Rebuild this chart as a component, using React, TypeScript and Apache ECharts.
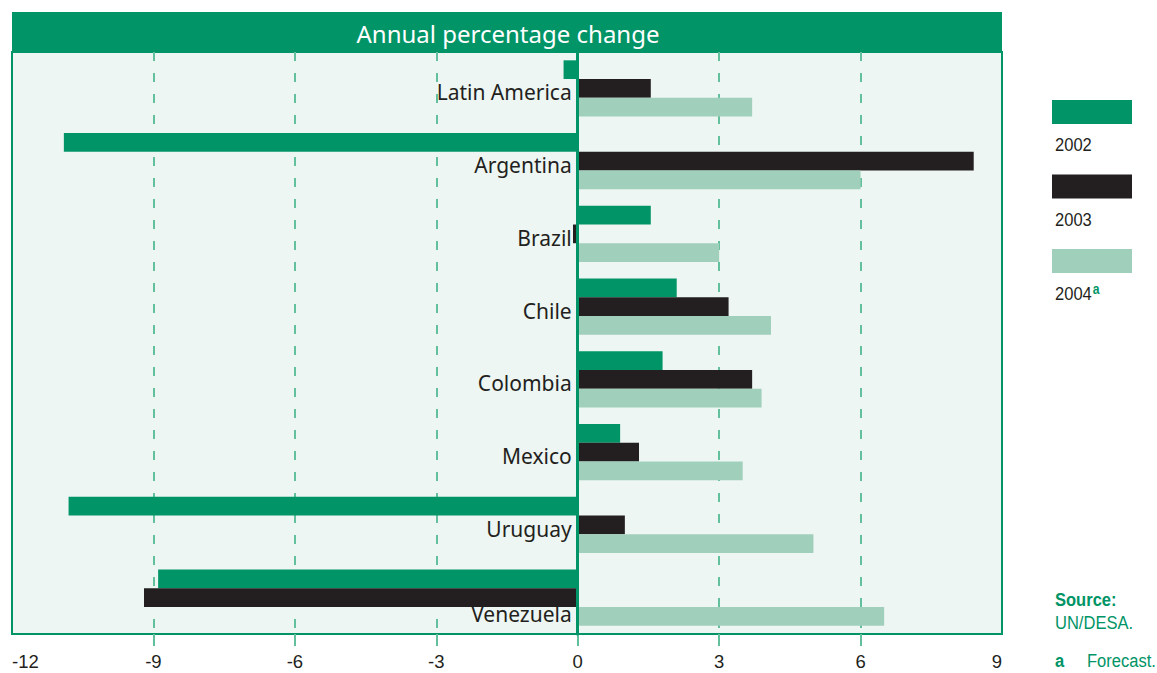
import React, { useEffect, useRef } from "react";
import * as echarts from "echarts";

const categories = ["Latin America", "Argentina", "Brazil", "Chile", "Colombia", "Mexico", "Uruguay", "Venezuela"];
const seriesNames = ["2002", "2003", "2004"];
const values2002 = [-0.3, -10.9, 1.55, 2.1, 1.8, 0.9, -10.8, -8.9];
const values2003 = [1.55, 8.4, -0.1, 3.2, 3.7, 1.3, 1.0, -9.2];
const values2004 = [3.7, 6.0, 3.0, 4.1, 3.9, 3.5, 5.0, 6.5];
const xTicks = [-9, -6, -3, 0, 3, 6];

const GREEN = "#009466";
const BLACK = "#231F20";
const LIGHT = "#A0CFBC";
const GRIDC = "#62C09C";
const colors = [GREEN, BLACK, LIGHT];
const NARROW = "'Liberation Sans', Arial, sans-serif";
const MAIN = "'Noto Sans', 'Open Sans', sans-serif";
const SX = 0.87;

const GRID_LEFT = 12;
const GRID_RIGHT = 155;
const X_MIN = -12;
const X_MAX = 9;

export default function App() {
  const ref = useRef<HTMLDivElement>(null);
  useEffect(() => {
    document.body.style.margin = "0";
    const chart = echarts.init(ref.current!, null, { renderer: "svg" });
    const data = [values2002, values2003, values2004];
    const plotW = 1157 - GRID_LEFT - GRID_RIGHT;
    const zeroOffset = ((0 - X_MIN) / (X_MAX - X_MIN)) * plotW;
    const legendGraphics: any[] = [];
    seriesNames.forEach((n, i) => {
      const top = 100 + i * 74.5;
      legendGraphics.push({
        type: "rect",
        shape: { x: 1052, y: top, width: 80, height: 24 },
        style: { fill: colors[i] },
      });
      legendGraphics.push({
        type: "text",
        x: 1055,
        y: top + 45,
        scaleX: SX,
        style: {
          text: i === 2 ? n + "{a|a}" : n,
          fill: BLACK,
          font: `19px ${NARROW}`,
          verticalAlign: "middle",
          rich: { a: { fill: GREEN, fontWeight: "bold", fontSize: 14, fontFamily: NARROW, padding: [0, 0, 10, 1] } },
        } as any,
      });
    });
    chart.setOption({
      animation: false,
      grid: {
        left: GRID_LEFT,
        right: GRID_RIGHT,
        top: 52,
        bottom: 39,
        containLabel: false,
        outerBoundsMode: "none",
        show: true,
        backgroundColor: "#EDF6F2",
        borderColor: GREEN,
        borderWidth: 2,
      },
      xAxis: {
        type: "value",
        min: X_MIN,
        max: X_MAX,
        interval: 3,
        axisLine: { show: false },
        axisTick: { show: true, customValues: xTicks, length: 12, lineStyle: { color: GRIDC, width: 2 } },
        splitLine: { show: true, lineStyle: { color: GRIDC, type: [9, 12], width: 2 } },
        axisLabel: {
          show: true,
          margin: 18,
          fontSize: 18.5,
          color: BLACK,
          fontFamily: NARROW,
          showMinLabel: true,
          showMaxLabel: true,
          alignMinLabel: "left",
          alignMaxLabel: "right",
        },
      },
      yAxis: {
        type: "category",
        inverse: true,
        data: categories,
        z: 5,
        offset: -zeroOffset,
        axisLine: { show: true, onZero: false, lineStyle: { color: GREEN, width: 3 } },
        axisTick: { show: false },
        axisLabel: {
          margin: 6,
          fontSize: 21,
          color: BLACK,
          fontFamily: MAIN,
          formatter: (v: string) => (v === "Venezuela" ? `{v|${v}}` : `{n|${v}}`),
          rich: {
            n: { fontSize: 21, fontFamily: MAIN, color: BLACK, padding: [8, 0, 0, 0] },
            v: { fontSize: 21, fontFamily: MAIN, color: BLACK, padding: [32, 0, 0, 0] },
          },
        },
      },
      series: seriesNames.map((n, i) => ({
        name: n,
        type: "bar",
        data: data[i],
        barWidth: 18.7,
        barGap: "0%",
        itemStyle: { color: colors[i] },
      })),
      graphic: [
        { type: "rect", shape: { x: 12, y: 12, width: 990, height: 40 }, style: { fill: GREEN } },
        {
          type: "text",
          x: 508,
          y: 33,
          style: { text: "Annual percentage change", fill: "#fff", font: `24px ${MAIN}`, align: "center", verticalAlign: "middle" },
        },
        ...legendGraphics,
        { type: "text", x: 1055, y: 600, scaleX: SX, style: { text: "Source:", fill: GREEN, font: `bold 19px ${NARROW}`, verticalAlign: "middle" } },
        { type: "text", x: 1055, y: 623, scaleX: SX, style: { text: "UN/DESA.", fill: GREEN, font: `19px ${NARROW}`, verticalAlign: "middle" } },
        { type: "text", x: 1055, y: 661, scaleX: SX, style: { text: "a", fill: GREEN, font: `bold 19px ${NARROW}`, verticalAlign: "middle" } },
        { type: "text", x: 1087, y: 661, scaleX: SX, style: { text: "Forecast.", fill: GREEN, font: `19px ${NARROW}`, verticalAlign: "middle" } },
      ],
    });
    return () => chart.dispose();
  }, []);
  return <div ref={ref} style={{ width: 1157, height: 673 }} />;
}
